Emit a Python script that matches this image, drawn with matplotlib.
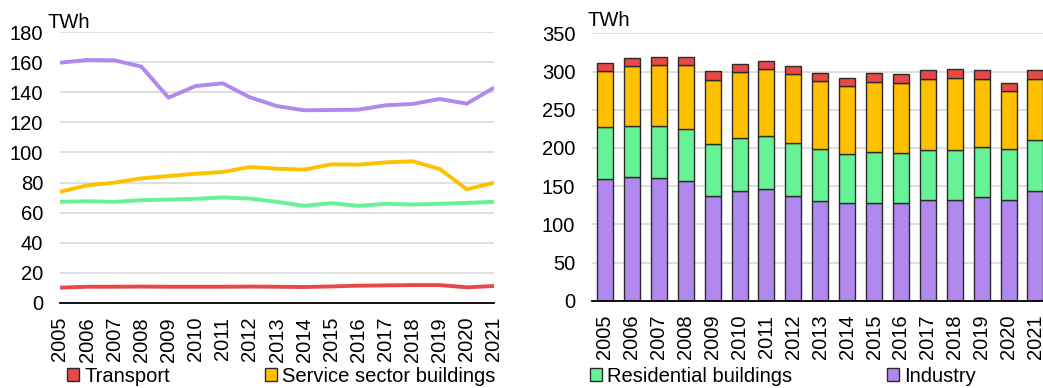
import matplotlib
matplotlib.use("Agg")
import matplotlib.pyplot as plt
import numpy as np
from matplotlib.patches import Patch

plt.rcParams['font.family'] = ['Liberation Sans', 'DejaVu Sans']

years = [str(y) for y in range(2005, 2022)]
industry = [159.6, 161.4, 161.2, 157.0, 136.4, 144.1, 145.9, 136.6, 130.8, 128.0,
            128.2, 128.4, 131.3, 132.2, 135.5, 132.4, 143.0]
residential = [67.2, 67.6, 67.2, 68.3, 68.7, 69.2, 70.1, 69.4, 67.2, 64.5,
               66.3, 64.5, 65.9, 65.4, 65.9, 66.5, 67.2]
service = [73.9, 78.1, 79.9, 82.8, 84.3, 85.9, 87.0, 90.3, 89.2, 88.6,
           92.1, 91.9, 93.4, 94.1, 89.0, 75.5, 79.9]
transport = [10.2, 10.8, 10.8, 10.9, 10.8, 10.8, 10.8, 10.9, 10.8, 10.6,
             11.0, 11.5, 11.7, 11.9, 11.9, 10.4, 11.3]

c_transport = '#E84848'
c_service = '#FFC000'
c_resid = '#66F295'
c_industry = '#B088EE'

fig = plt.figure(figsize=(10.43, 3.88), dpi=100)
FS = 14.5

x = np.arange(len(years))

# Left: lines per sector
ax1 = fig.add_axes([60/1043, 1-303/388, (494-60)/1043, (303-32)/388])
ax1.plot(x, industry, color=c_industry, lw=2.8, solid_capstyle='butt')
ax1.plot(x, service, color=c_service, lw=2.8, solid_capstyle='butt')
ax1.plot(x, residential, color=c_resid, lw=2.8, solid_capstyle='butt')
ax1.plot(x, transport, color=c_transport, lw=2.8, solid_capstyle='butt')
ax1.set_xlim(0, len(years) - 1)
ax1.set_ylim(0, 180)
ax1.set_yticks(range(0, 181, 20))

# Right: stacked bars
ax2 = fig.add_axes([592/1043, 1-300.7/388, (1043-592)/1043, (300.7-33.3)/388])
w = 0.595
bot = np.zeros(len(years))
for vals, col in [(industry, c_industry), (residential, c_resid),
                  (service, c_service), (transport, c_transport)]:
    ax2.bar(x, vals, w, bottom=bot, color=col, edgecolor='#2b2b2b', linewidth=1.0, zorder=3)
    bot += np.array(vals)
ax2.set_xlim(-0.483, 16.28)
ax2.set_ylim(0, 350)
ax2.set_yticks(range(0, 351, 50))

for ax in (ax1, ax2):
    ax.set_xticks(x)
    ax.set_xticklabels(years, rotation=90, fontsize=FS)
    ax.tick_params(axis='y', labelsize=FS, length=0, pad=12)
    ax.tick_params(axis='x', length=0, pad=10)
    ax.grid(axis='y', color='#D9D9D9', lw=1.2, zorder=0)
    ax.set_axisbelow(True)
    for s in ('top', 'right', 'left'):
        ax.spines[s].set_visible(False)
    ax.spines['bottom'].set_color('black')
    ax.spines['bottom'].set_linewidth(1.3)
    ax.spines['bottom'].set_zorder(5)

fig.text(48/1043, 1-22/388, 'TWh', fontsize=FS, va='center', ha='left')
fig.text(588/1043, 1-20/388, 'TWh', fontsize=FS, va='center', ha='left')

handles = [Patch(facecolor=c, edgecolor='#2b2b2b', linewidth=1.0)
           for c in (c_transport, c_service, c_resid, c_industry)]
labels = ['Transport', 'Service sector buildings', 'Residential buildings', 'Industry']
fig.legend(handles, labels, loc='center left', bbox_to_anchor=(67/1043, 1-376/388),
           ncol=4, frameon=False, fontsize=FS, handlelength=0.6, handleheight=0.6,
           handletextpad=0.25, columnspacing=4.7, borderpad=0, borderaxespad=0)

fig.savefig('out.png', dpi=100)
